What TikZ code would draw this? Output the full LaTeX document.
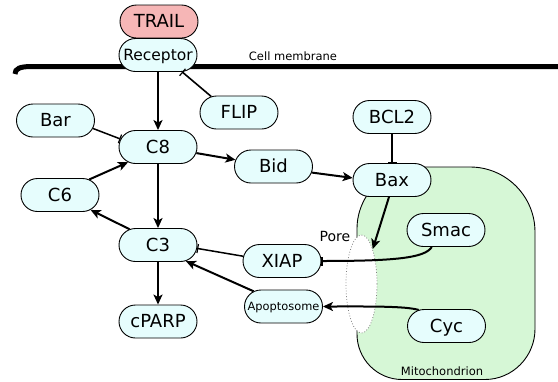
\documentclass[tikz,border=0pt]{standalone}
\usepackage{fontspec}
\setmainfont{DejaVu Sans}
\usetikzlibrary{arrows.meta,shapes.misc,shapes.geometric}
\definecolor{nodecyan}{RGB}{230,253,253}
\definecolor{trailred}{RGB}{246,182,182}
\definecolor{mitogreen}{RGB}{214,247,214}
\newcommand\zb[1]{\rule[-16.5pt]{0pt}{33pt}\makebox[0pt]{\raisebox{-.36em}{\smash{#1}}}}
\tikzset{
  mol/.style={rounded rectangle, draw, line width=0.9pt, fill=nodecyan,
    minimum width=78pt, minimum height=33pt, inner sep=0pt,
    font=\fontsize{18}{20}\selectfont},
  act/.style={line width=2pt, -{Stealth[length=10pt,width=9pt,inset=2.5pt]}},
  inh/.style={line width=1.5pt, -{Bar[width=9pt,line width=1.2pt]}},
  lbl/.style={font=\fontsize{11.5}{13}\selectfont, inner sep=0pt, anchor=base},
}
\begin{document}
\begin{tikzpicture}[x=1pt,y=-1pt]
\useasboundingbox (0,0) rectangle (558,381);
% mitochondrion
\draw[line width=0.9pt, fill=mitogreen]
  (357,260) -- (357,229) .. controls (357,194.8) and (384.8,167) .. (419,167)
  -- (470,167) .. controls (505.9,167) and (535,196.1) .. (535,232)
  -- (535,329) .. controls (535,356.6) and (512.6,379.5) .. (485,379.5)
  -- (402,379.5) .. controls (376.8,379.5) and (357,358.8) .. (357,334) -- cycle;
\node[ellipse, draw=gray, dotted, line width=0.8pt, fill=white,
  minimum width=31pt, minimum height=98pt, inner sep=0pt] (pore) at (361.5,284) {};
% membrane
\draw[line width=5pt] (15,74) .. controls (15,68.5) and (20,66.5) .. (32,66.5) -- (560,66.5);
\node[lbl] (cm) at (293,60.5) {Cell membrane};
\node[lbl, font=\fontsize{14}{16}\selectfont] (porelbl) at (335,241.7) {Pore};
\node[lbl] (mitolbl) at (442,375) {Mitochondrion};
% nodes
\node[mol, fill=trailred] (trail) at (159,21.5) {\zb{TRAIL}};
\node[mol, font=\fontsize{15.5}{17}\selectfont] (rec) at (158,55) {\zb{Receptor}};
\node[mol] (flip) at (239,112.5) {\zb{FLIP}};
\node[mol] (bar) at (55.5,120.5) {\zb{Bar}};
\node[mol] (c8) at (158,147) {\zb{C8}};
\node[mol] (bid) at (273.5,166.5) {\zb{Bid}};
\node[mol] (bcl2) at (392,117) {\zb{BCL2}};
\node[mol] (bax) at (392,180) {\zb{Bax}};
\node[mol] (c6) at (60,195) {\zb{C6}};
\node[mol] (c3) at (158,245) {\zb{C3}};
\node[mol] (xiap) at (282,261) {\zb{XIAP}};
\node[mol, font=\fontsize{11.4}{13}\selectfont] (apo) at (283.5,306.5) {\zb{Apoptosome}};
\node[mol] (cparp) at (158,321.5) {\zb{cPARP}};
\node[mol] (smac) at (446,230) {\zb{Smac}};
\node[mol] (cyc) at (446.5,326) {\zb{Cyc}};
% connectors
\draw[act] (rec.south) -- (c8.north);
\draw[inh, line width=1.6pt] (flip.150) -- (rec.-35);
\draw[inh] (bar.-12) -- (c8.168);
\draw[act] (c8.-9) -- (bid.170);
\draw[act] (c8.south) -- (c3.north);
\draw[act] (c6.28) -- (c8.207);
\draw[act] (c3.151) -- (c6.-26);
\draw[act] (bid.-9) -- (bax.177);
\draw[inh, line width=1.3pt] (bcl2.south) -- (bax.north);
\draw[act] (bax.-100) -- (pore.north east);
\draw[inh, line width=2pt] (smac.-130) .. controls (425,258) and (395,261) .. (xiap.east);
\draw[inh] (xiap.173) -- (c3.-5);
\draw[act] (apo.153) -- (c3.-30);
\draw[act] (cyc.150) .. controls (405,306) and (370,306.5) .. (apo.east);
\draw[act] (c3.south) -- (cparp.north);
\end{tikzpicture}
\end{document}
